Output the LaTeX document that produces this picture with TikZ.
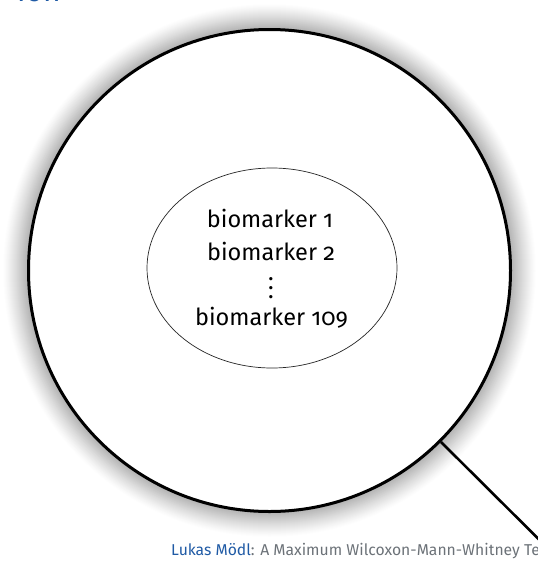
\documentclass[tikz,border=0pt]{standalone}
\usepackage{fontspec}
\setmainfont{Fira Sans}[Numbers=OldStyle]
\usetikzlibrary{shapes.geometric}
\definecolor{mblue}{RGB}{31,90,165}
\definecolor{mgray}{RGB}{108,114,120}
\tikzset{
  lensbox/.style={circle, draw=black, line width=3pt, fill=white, inner sep=0pt, minimum size=482pt},
  setbox/.style={ellipse, draw=black!85, line width=0.7pt, inner sep=0pt, minimum width=250pt, minimum height=200pt},
  bmtext/.style={anchor=base, inner sep=0pt, font=\fontsize{23.5}{26}\selectfont},
  spyline/.style={line width=2.6pt, black},
}
\newcommand{\myvdots}{\vbox{\baselineskip=9pt\lineskiplimit=-100pt\hbox{.}\hbox{.}\hbox{.}}}
\begin{document}
\begin{tikzpicture}[x=1pt,y=-1pt]
\useasboundingbox (0,0) rectangle (538,581);
\clip (0,0) rectangle (538,581);
% title fragment
\node[anchor=base east, inner sep=0pt, text=mblue, font=\fontsize{30}{32}\selectfont] (title) at (61,1) {ion};
% shadow
\foreach \i in {26,25,...,0} {
  \pgfmathsetmacro\k{32*((1-\i/26)^1.2)}
  \fill[black!\k] (269.5,270.5) circle[radius=241+\i];
}
\node[lensbox] (lens) at (269.5,270.5) {};
\coordinate (far) at (620,620);
\draw[spyline] (lens.-45) -- (far);
\node[setbox] (set) at (272,268) {};
\node[bmtext] (b1) at (270,227) {biomarker 1};
\node[bmtext] (b2) at (271,260) {biomarker 2};
\node[bmtext] (bd) at (271,298) {\myvdots};
\node[bmtext] (b3) at (271.5,325) {biomarker 109};
% footer
\node[anchor=base west, inner sep=0pt, font=\fontsize{15.7}{18}\selectfont] (foot) at (171,555) {\textcolor{mblue}{Lukas Mödl}\textcolor{mgray}{: A Maximum Wilcoxon-Mann-Whitney Te}};
\end{tikzpicture}
\end{document}
